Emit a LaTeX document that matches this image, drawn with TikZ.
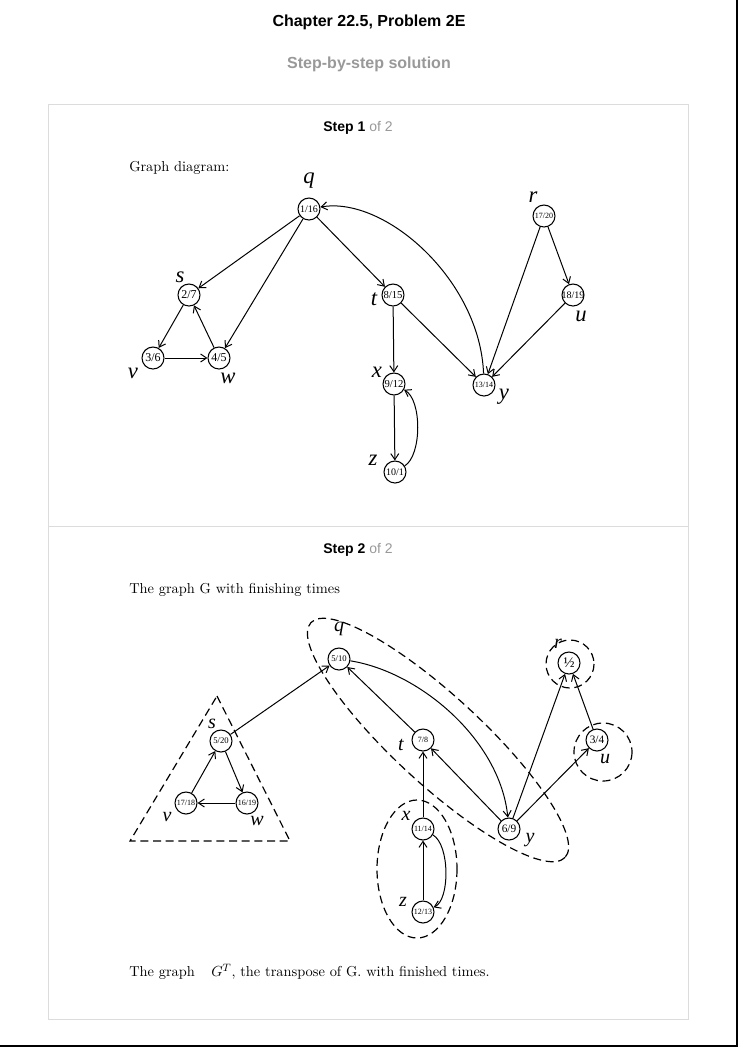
\documentclass[tikz,border=0pt]{standalone}
\usepackage{fontspec}
\setsansfont{Liberation Sans}
\newfontfamily\tms{Liberation Serif}
\usetikzlibrary{arrows.meta}
\definecolor{boxgray}{HTML}{DCDCDC}
\definecolor{txtgray}{HTML}{999999}
\newcommand\vtxt[2]{\makebox[0pt]{\fontsize{#1}{#1}\selectfont #2}}
\begin{document}
\begin{tikzpicture}[x=0.75pt,y=-0.75pt,
  vert/.style={circle,draw,fill=white,line width=0.8pt,minimum size=16.5pt,inner sep=0pt,font=\tms},
  lblA/.style={font=\tms\itshape\fontsize{17}{17}\selectfont, inner sep=0pt},
  lblB/.style={font=\tms\itshape\fontsize{15}{15}\selectfont, inner sep=0pt},
  arr/.style={line width=0.75pt,-{Straight Barb[length=4.5pt,width=6pt]}},
  grp/.style={line width=0.9pt, dash pattern=on 6pt off 3.5pt},
  body/.style={font=\fontsize{10.8}{13}\selectfont, inner sep=0pt, anchor=west},
  head/.style={font=\sffamily\bfseries\fontsize{12}{14}\selectfont, inner sep=0pt},
  stephd/.style={font=\sffamily\fontsize{10.5}{12}\selectfont, inner sep=0pt},
]
\useasboundingbox (0,0) rectangle (738,1047);
\fill[white] (0,0) rectangle (738,1047);
% page border lines
\draw[line width=1.5pt] (736.5,0) -- (736.5,1046);
\draw[line width=1.5pt] (0,1045.5) -- (737.5,1045.5);
% card
\draw[boxgray, line width=0.75pt] (48,104) rectangle (688,1019);
\draw[boxgray, line width=0.75pt] (48,526) -- (688,526);

% headings
\node[head] (title) at (369,22) {Chapter 22.5, Problem 2E};
\node[head, text=txtgray] (sub) at (369,64) {Step-by-step solution};
\node[stephd] (step1) at (358,127.5) {\textbf{Step 1} \textcolor{txtgray}{of 2}};
\node[stephd] (step2) at (358,549.5) {\textbf{Step 2} \textcolor{txtgray}{of 2}};

\node[body] (t1) at (129,167.5) {Graph diagram:};
\node[body] (t2) at (129,589.5) {The graph G with finishing times};
\node[body] (t3a) at (129,972.5) {The graph};
\node[body] (t3b) at (211,971.5) {$G^T$, the transpose of G. with finished times.};

% ---------- graph 1 ----------
\node[vert] (q1) at (309,209) {\vtxt{7.5}{1/16}};
\node[vert] (s1) at (189,295) {\vtxt{9}{2/7}};
\node[vert] (v1) at (153,358) {\vtxt{9}{3/6}};
\node[vert] (w1) at (219,358) {\vtxt{9}{4/5}};
\node[vert] (tt1) at (393,295) {\vtxt{8}{8/15}};
\node[vert] (x1) at (394,384) {\vtxt{8}{9/12}};
\node[vert] (z1) at (395,472) {\vtxt{7.5}{10/1}};
\node[vert] (y1) at (484,385) {\vtxt{6}{13/14}};
\node[vert] (r1) at (544,216) {\vtxt{6}{17/20}};
\node[vert] (u1) at (573,295) {\vtxt{7.5}{18/19}};

\node[lblA] (lq1) at (309,181) {q};
\node[lblA] (ls1) at (180,277) {s};
\node[lblA] (lv1) at (133,373) {v};
\node[lblA] (lw1) at (228,378) {w};
\node[lblA] (lt1) at (374,299) {t};
\node[lblA] (lx1) at (377,372) {x};
\node[lblA] (lz1) at (373,460) {z};
\node[lblA] (ly1) at (504,397) {y};
\node[lblA] (lr1) at (533,197) {r};
\node[lblA] (lu1) at (581,316) {u};

\draw[arr] (q1) -- (s1);
\draw[arr] (q1) -- (w1);
\draw[arr] (q1) -- (tt1);
\draw[arr] (s1) -- (v1);
\draw[arr] (v1) -- (w1);
\draw[arr] (w1) -- (s1);
\draw[arr] (tt1) -- (x1);
\draw[arr] (tt1) -- (y1);
\draw[arr] (x1) -- (z1);
\draw[arr] (z1) .. controls (422,455) and (422,400) .. (x1);
\draw[arr] (y1) .. controls (480,280) and (385,196) .. (q1);
\draw[arr] (r1) -- (y1);
\draw[arr] (r1) -- (u1);
\draw[arr] (u1) -- (y1);

% ---------- graph 2 ----------
\draw[grp] (217,696) -- (290,841) -- (130,841) -- cycle;
\draw[grp, rotate around={-42.7:(438,740)}] (438,740) ellipse [x radius=173, y radius=44];
\draw[grp] (570,664) circle [radius=24];
\draw[grp] (603,752) circle [radius=29];
\draw[grp] (417,869) ellipse [x radius=40, y radius=69];

\node[vert] (q2) at (339,659) {\vtxt{6.5}{5/10}};
\node[vert] (s2) at (221,741) {\vtxt{6.5}{5/20}};
\node[vert] (v2) at (186,803) {\vtxt{6}{17/18}};
\node[vert] (w2) at (247,803) {\vtxt{6}{16/19}};
\node[vert] (tt2) at (423,740) {\vtxt{6}{7/8}};
\node[vert] (x2) at (423,829) {\vtxt{6}{11/14}};
\node[vert] (z2) at (423,912) {\vtxt{6}{12/13}};
\node[vert] (y2) at (509,829) {\vtxt{8.5}{6/9}};
\node[vert] (r2) at (569,663) {\vtxt{11}{½}};
\node[vert] (u2) at (597,740) {\vtxt{8.5}{3/4}};

\node[lblB] (lq2) at (339,629) {q};
\node[lblB] (ls2) at (212,724) {s};
\node[lblB] (lv2) at (167,817) {v};
\node[lblB] (lw2) at (257,821) {w};
\node[lblB] (lt2) at (401,745) {t};
\node[lblB] (lx2) at (406,816) {x};
\node[lblB] (lz2) at (403,902) {z};
\node[lblB] (ly2) at (530,840) {y};
\node[lblB] (lr2) at (558,644) {r};
\node[lblB] (lu2) at (605,759) {u};

\draw[arr] (s2) -- (q2);
\draw[arr] (s2) -- (w2);
\draw[arr] (w2) -- (v2);
\draw[arr] (v2) -- (s2);
\draw[arr] (tt2) -- (q2);
\draw[arr] (q2) .. controls (420,672) and (500,740) .. (y2);
\draw[arr] (y2) -- (tt2);
\draw[arr] (x2) -- (tt2);
\draw[arr] (z2) -- (x2);
\draw[arr] (x2) .. controls (450,845) and (450,900) .. (z2);
\draw[arr] (y2) -- (r2);
\draw[arr] (y2) -- (u2);
\draw[arr] (u2) -- (r2);
\end{tikzpicture}
\end{document}
